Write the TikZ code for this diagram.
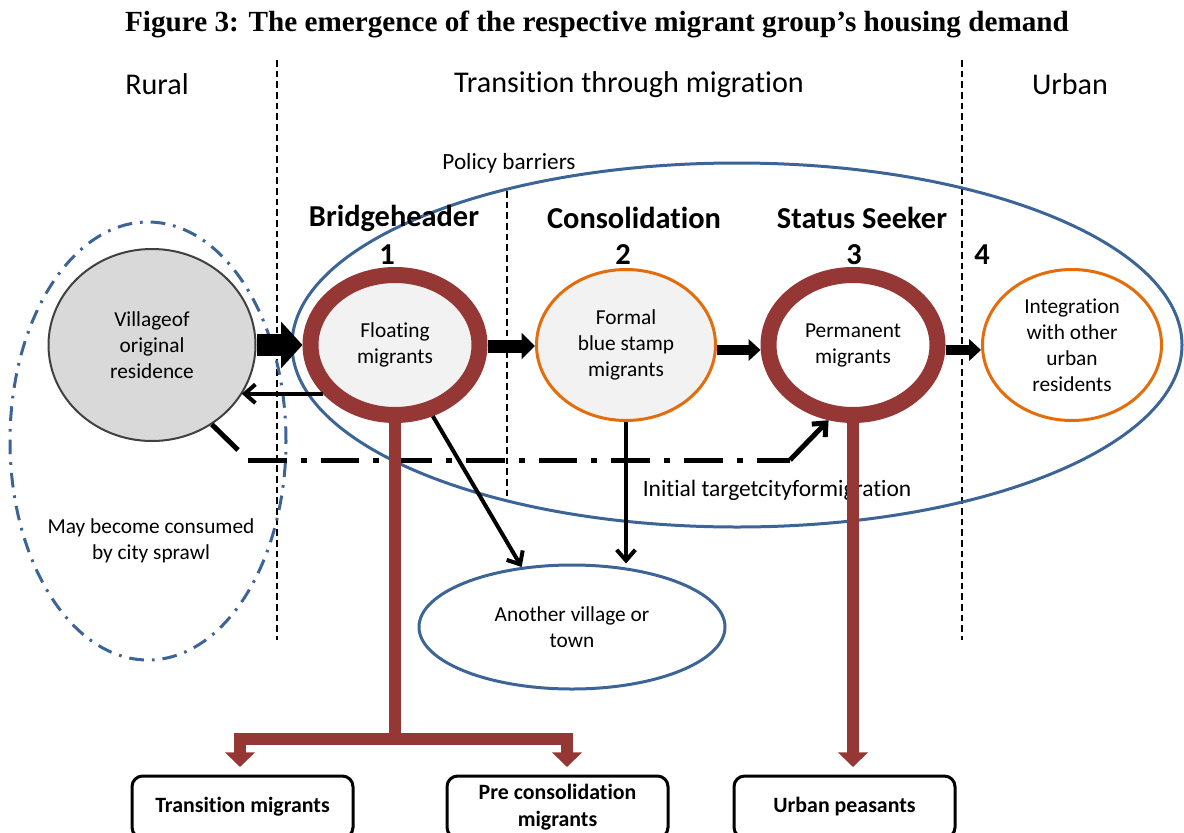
\documentclass[tikz,border=0pt]{standalone}
\usepackage{fontspec}
\setmainfont{Carlito}[Ligatures={NoCommon},RawFeature={-calt;-clig;-liga}]
\newfontfamily\titlefont{Liberation Serif}
\usetikzlibrary{arrows.meta,shapes.geometric,calc}
\definecolor{ringred}{HTML}{953735}
\definecolor{orng}{HTML}{E46C0A}
\definecolor{pblue}{HTML}{3C6496}
\definecolor{vgray}{HTML}{D9D9D9}
\definecolor{vborder}{HTML}{404040}
\definecolor{lfill}{HTML}{F2F2F2}
\begin{document}
\begin{tikzpicture}[x=0.75pt,y=-0.75pt,
  txtbody/.style={font=\fontsize{16}{19.5}\selectfont, align=center},
  ringnode/.style={ellipse, draw=ringred, line width=12pt, inner sep=0pt, minimum width=126.75pt, minimum height=105pt, txtbody},
  orangenode/.style={ellipse, draw=orng, line width=2.25pt, inner sep=0pt, minimum width=134.25pt, minimum height=113.25pt, txtbody},
  txthead/.style={font=\fontsize{22.6}{26}\selectfont},
  txtstage/.style={font=\fontsize{22.8}{26}\selectfont\bfseries},
  regionline/.style={draw=black, line width=1.1pt, dash pattern=on 5pt off 3pt},
  thinarrow/.style={draw=black, line width=3pt, -{Straight Barb[length=8pt,width=14pt]}},
  redline/.style={draw=ringred, line width=9.5pt},
  redtip/.style={-{Triangle[length=11pt,width=22pt]}},
  blueell/.style={ellipse, draw=pblue, line width=2.25pt, inner sep=0pt},
  outbox/.style={draw=black, line width=2.25pt, rounded corners=8pt, minimum width=165.75pt, minimum height=46.5pt, align=center, font=\fontsize{16.4}{20}\selectfont\bfseries, inner sep=0pt}
]
\useasboundingbox (0,0) rectangle (1184,832);
\clip (0,0) rectangle (1184,832);

% title and headings
\node[font=\titlefont\fontsize{21.9}{26}\selectfont\bfseries] (title) at (597,24) {Figure 3: The emergence of the respective migrant group’s housing demand};
\node[txthead] (rural) at (157,84) {Rural};
\node[txthead] (transition) at (629,85) {Transition through migration};
\node[txthead] (urban) at (1070,84) {Urban};

% region separators
\draw[regionline] (277,60) -- (277,640);
\draw[regionline] (962,60) -- (962,640);
\draw[regionline] (507,191) -- (507,498);

% big ellipses
\node[blueell, minimum width=667.5pt, minimum height=273pt] (policy) at (737,345) {};
\node[txtbody, font=\fontsize{17.4}{20}\selectfont] (policylbl) at (509,163) {Policy barriers};
\node[blueell, dash pattern=on 11pt off 6pt on 2pt off 6pt, minimum width=207pt, minimum height=328.5pt] (sprawl) at (148,441) {};
\node[txtbody] (sprawllbl) at (151,541) {May become consumed\\by city sprawl};

% main nodes
\node[ellipse, draw=vborder, fill=vgray, line width=1.5pt, minimum width=155.25pt, minimum height=144pt, inner sep=0pt, txtbody] (village) at (152,345) {Villageof\\original\\residence};
\node[ringnode, fill=lfill] (floating) at (395,345) {Floating\\migrants};
\node[orangenode, fill=lfill] (formal) at (626,345) {Formal\\blue stamp\\migrants};
\node[ringnode, fill=white] (permanent) at (853,345) {Permanent\\migrants};
\node[orangenode, fill=white] (integ) at (1072,345) {Integration\\with other\\urban\\residents};
\node[blueell, minimum width=229.5pt, minimum height=93pt, txtbody] (another) at (572,627) {Another village or\\town};

% stage labels
\node[txtstage] (s1) at (394,218) {Bridgeheader};
\node[txtstage] (n1) at (387,255) {1};
\node[txtstage] (s2) at (634,218) {Consolidation};
\node[txtstage] (n2) at (623,255) {2};
\node[txtstage] (s3) at (862,218) {Status Seeker};
\node[txtstage] (n3) at (854,255) {3};
\node[txtstage] (n4) at (982,255) {4};

\node[txtbody, font=\fontsize{17.6}{20}\selectfont] (initlbl) at (777,490) {Initial targetcityformigration};

% block arrows
\draw[line width=17pt, -{Triangle[length=16pt,width=34pt]}] (village.east) -- (floating.west);
\draw[line width=9.75pt, -{Triangle[length=10pt,width=19pt]}] ($(floating.east)+(0,1)$) -- ($(formal.west)+(0,1)$);
\draw[line width=7pt, -{Triangle[length=9pt,width=16pt]}] ($(formal.east)+(0,5)$) -- ($(permanent.west)+(0,5)$);
\draw[line width=7pt, -{Triangle[length=9pt,width=16pt]}] ($(permanent.east)+(0,5)$) -- ($(integ.west)+(0,5)$);

% thin arrows
\draw[thinarrow] (floating.214) -- (floating.214 -| village.-29);
\draw[thinarrow] (floating.-62) -- (another.130);
\draw[thinarrow] (formal.south) -- (formal.south |- another.north);

% dash-dot path
\coordinate (dd0) at (238,450);
\coordinate (dd1) at (248,460);
\coordinate (dd2) at (790,460);
\draw[line width=3.75pt] (village.-53) -- (dd0);
\draw[line width=3.75pt, dash pattern=on 29pt off 10.5pt on 4.5pt off 10.5pt] (dd1) -- (dd2);
\draw[thinarrow, line width=3.75pt] (dd2) -- (permanent.-108);

% red distribution lines
\coordinate (split) at (floating.south |- 0,739);
\coordinate (tl) at (240,739);
\coordinate (tr) at (567,739);
\coordinate (tle) at (240,767);
\coordinate (tre) at (567,767);
\coordinate (upe) at (permanent.south |- 0,767);
\draw[redline] (floating.south) -- (split);
\draw[redline, redtip] (split) -- (tl) -- (tle);
\draw[redline, redtip] (split) -- (tr) -- (tre);
\draw[redline, redtip] (permanent.south) -- (upe);

% output boxes
\node[outbox] (tm) at (242.5,807) {Transition migrants};
\node[outbox] (pc) at (557.5,807) {Pre consolidation\\migrants};
\node[outbox] (up) at (844.5,807) {Urban peasants};
\end{tikzpicture}
\end{document}
